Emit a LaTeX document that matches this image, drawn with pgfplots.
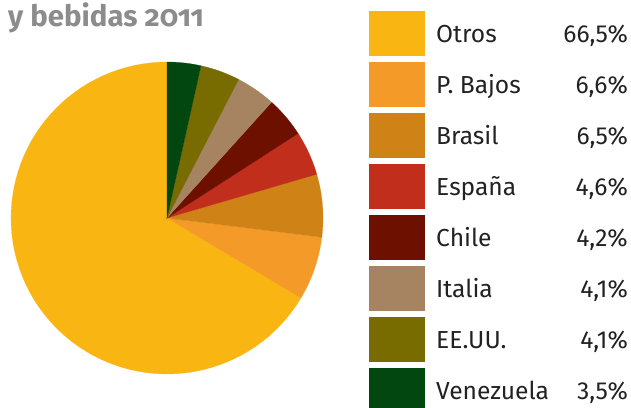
\documentclass[border=0pt]{standalone}
\usepackage{fontspec}
\setmainfont{Fira Sans}
\usepackage{pgfplots}
\pgfplotsset{compat=1.18}
\definecolor{cOtros}{HTML}{F9B512}
\definecolor{cPB}{HTML}{F49A28}
\definecolor{cBR}{HTML}{CF8216}
\definecolor{cES}{HTML}{C22E1C}
\definecolor{cCL}{HTML}{6E1000}
\definecolor{cIT}{HTML}{A68461}
\definecolor{cUS}{HTML}{786B00}
\definecolor{cVE}{HTML}{024710}
\definecolor{txt}{HTML}{222222}
\definecolor{ttl}{HTML}{8C8C8E}
\begin{document}
\begin{tikzpicture}[x=1bp,y=1bp]
\clip (0,0) rectangle (631,407);
\useasboundingbox (0,0) rectangle (631,407);
% title (cut at top as in the original)
\node[anchor=base west, inner sep=0, text=ttl, font=\fontsize{29.5}{32}\selectfont\bfseries\addfontfeatures{Numbers=OldStyle}] at (8,381) {y bebidas 2011};
% pie
\begin{axis}[at={(167bp,189bp)}, anchor=center, width=312bp, height=312bp,
  scale only axis, hide axis, xmin=-1, xmax=1, ymin=-1, ymax=1, clip=false]
\xdef\angstart{90}
\foreach \p/\c in {66.5/cOtros,6.6/cPB,6.5/cBR,4.6/cES,4.2/cCL,4.1/cIT,4.1/cUS,3.5/cVE}{
  \pgfmathsetmacro\angend{\angstart+3.6*\p/1.001}
  \edef\doplot{\noexpand\addplot[fill=\c, draw=\c, line width=0.2pt, domain=\angstart:\angend, samples=80, variable=\noexpand\t] ({cos(\noexpand\t)},{sin(\noexpand\t)}) -- (axis cs:0,0) -- cycle;}
  \doplot
  \xdef\angstart{\angend}
}
\end{axis}
% legend
\foreach \name/\val/\c [count=\i from 0] in {Otros/{66,5\%}/cOtros, P. Bajos/{6,6\%}/cPB, Brasil/{6,5\%}/cBR, España/{4,6\%}/cES, Chile/{4,2\%}/cCL, Italia/{4,1\%}/cIT, EE.UU./{4,1\%}/cUS, Venezuela/{3,5\%}/cVE}{
  \pgfmathsetmacro\yt{407-11-51.04*\i}
  \fill[\c] (369,\yt) rectangle (425,\yt-45);
  \node[anchor=base west, inner sep=0, text=txt, font=\fontsize{24.7}{28}\selectfont] at (436,\yt-31) {\name};
  \node[anchor=base east, inner sep=0, text=txt, font=\fontsize{24.7}{28}\selectfont] at (628,\yt-31) {\val};
}
\end{tikzpicture}
\end{document}
